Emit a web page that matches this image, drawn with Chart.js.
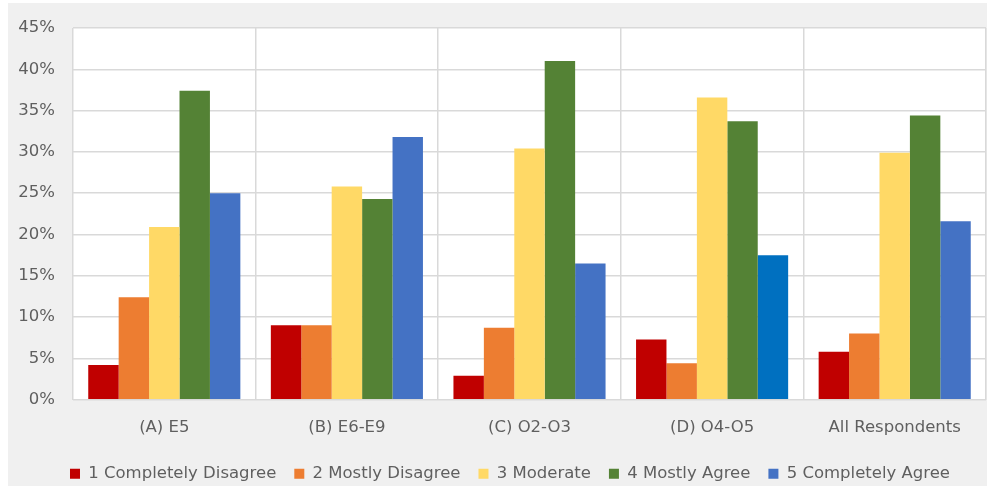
<!DOCTYPE html>
<html>
<head>
<meta charset="utf-8">
<script src="https://cdn.jsdelivr.net/npm/chart.js@4/dist/chart.umd.min.js"></script>
<style>
  html, body { margin: 0; padding: 0; background: #ffffff; }
  #frame { position: absolute; left: 8px; top: 3px; width: 979px; height: 483px; background: #f0f0f0; }
  #wrap { position: absolute; left: 0; top: 0; width: 987px; height: 486px; }
</style>
</head>
<body>
<div id="frame"></div>
<div id="wrap"><canvas id="barChart" width="987" height="486"></canvas></div>
<script>
// categories and series (percent of respondents)
const groups = ['(A) E5', '(B) E6-E9', '(C) O2-O3', '(D) O4-O5', 'All Respondents'];
const completelyDisagree = [4.2, 9.0, 2.9, 7.3, 5.8];
const mostlyDisagree = [12.4, 9.0, 8.7, 4.4, 8.0];
const moderate = [20.9, 25.8, 30.4, 36.6, 29.9];
const mostlyAgree = [37.4, 24.3, 41.0, 33.7, 34.4];
const completelyAgree = [25.0, 31.8, 16.5, 17.5, 21.6];
const yTicks = [0, 5, 10, 15, 20, 25, 30, 35, 40, 45];

const textGrey = '#5f5f5f';
const gridGrey = '#d9d9d9';
const labelFont = { family: 'DejaVu Sans', size: 16.5 };

// white plot background behind the bars
const plotBackground = {
    id: 'plotBackground',
    beforeDraw(chart) {
        const a = chart.chartArea;
        const ctx = chart.ctx;
        ctx.save();
        ctx.fillStyle = '#ffffff';
        ctx.fillRect(a.left, a.top, a.right - a.left, a.bottom - a.top);
        ctx.restore();
    }
};

// legend in the original sits a bit right of the canvas centre
const legendNudge = {
    id: 'legendNudge',
    afterLayout(chart) {
        const lg = chart.legend;
        lg.left += 17;
        lg.right += 17;
    }
};

const ctxBar = document.getElementById('barChart').getContext('2d');
const barChart = new Chart(ctxBar, {
    type: 'bar',
    data: {
        labels: groups,
        datasets: [
            { label: '1 Completely Disagree', data: completelyDisagree, backgroundColor: '#c00000' },
            { label: '2 Mostly Disagree', data: mostlyDisagree, backgroundColor: '#ed7d31' },
            { label: '3 Moderate', data: moderate, backgroundColor: '#ffd966' },
            { label: '4 Mostly Agree', data: mostlyAgree, backgroundColor: '#548235' },
            {
                label: '5 Completely Agree',
                data: completelyAgree,
                // the O4-O5 bar is a slightly different blue in the original
                backgroundColor: ['#4472c4', '#4472c4', '#4472c4', '#0070c0', '#4472c4']
            }
        ]
    },
    options: {
        responsive: false,
        animation: false,
        layout: { padding: { left: 0, right: 1, top: 28, bottom: -6 } },
        datasets: {
            bar: { categoryPercentage: 0.833, barPercentage: 1.0 }
        },
        plugins: {
            legend: {
                position: 'bottom',
                labels: {
                    color: textGrey,
                    font: labelFont,
                    boxWidth: 10,
                    boxHeight: 10,
                    padding: 18,
                    generateLabels(chart) {
                        return chart.data.datasets.map((ds, i) => ({
                            text: ds.label,
                            fillStyle: Array.isArray(ds.backgroundColor) ? ds.backgroundColor[0] : ds.backgroundColor,
                            strokeStyle: 'transparent',
                            lineWidth: 0,
                            fontColor: textGrey,
                            hidden: false,
                            datasetIndex: i
                        }));
                    }
                }
            },
            tooltip: { enabled: false }
        },
        scales: {
            x: {
                afterFit(scale) { scale.height -= 8; },
                grid: { color: gridGrey, lineWidth: 1.5, drawTicks: false, offset: true },
                border: { display: false },
                ticks: { color: textGrey, font: labelFont, padding: 18 }
            },
            y: {
                min: 0,
                max: 45,
                afterBuildTicks(scale) {
                    scale.ticks = yTicks.map(v => ({ value: v }));
                },
                afterFit(scale) { scale.width = 73; },
                grid: { color: gridGrey, lineWidth: 1.5, drawTicks: false },
                border: { display: false },
                ticks: {
                    color: textGrey,
                    font: labelFont,
                    padding: 18,
                    callback: v => v + '%'
                }
            }
        }
    },
    plugins: [plotBackground, legendNudge]
});
</script>
</body>
</html>
